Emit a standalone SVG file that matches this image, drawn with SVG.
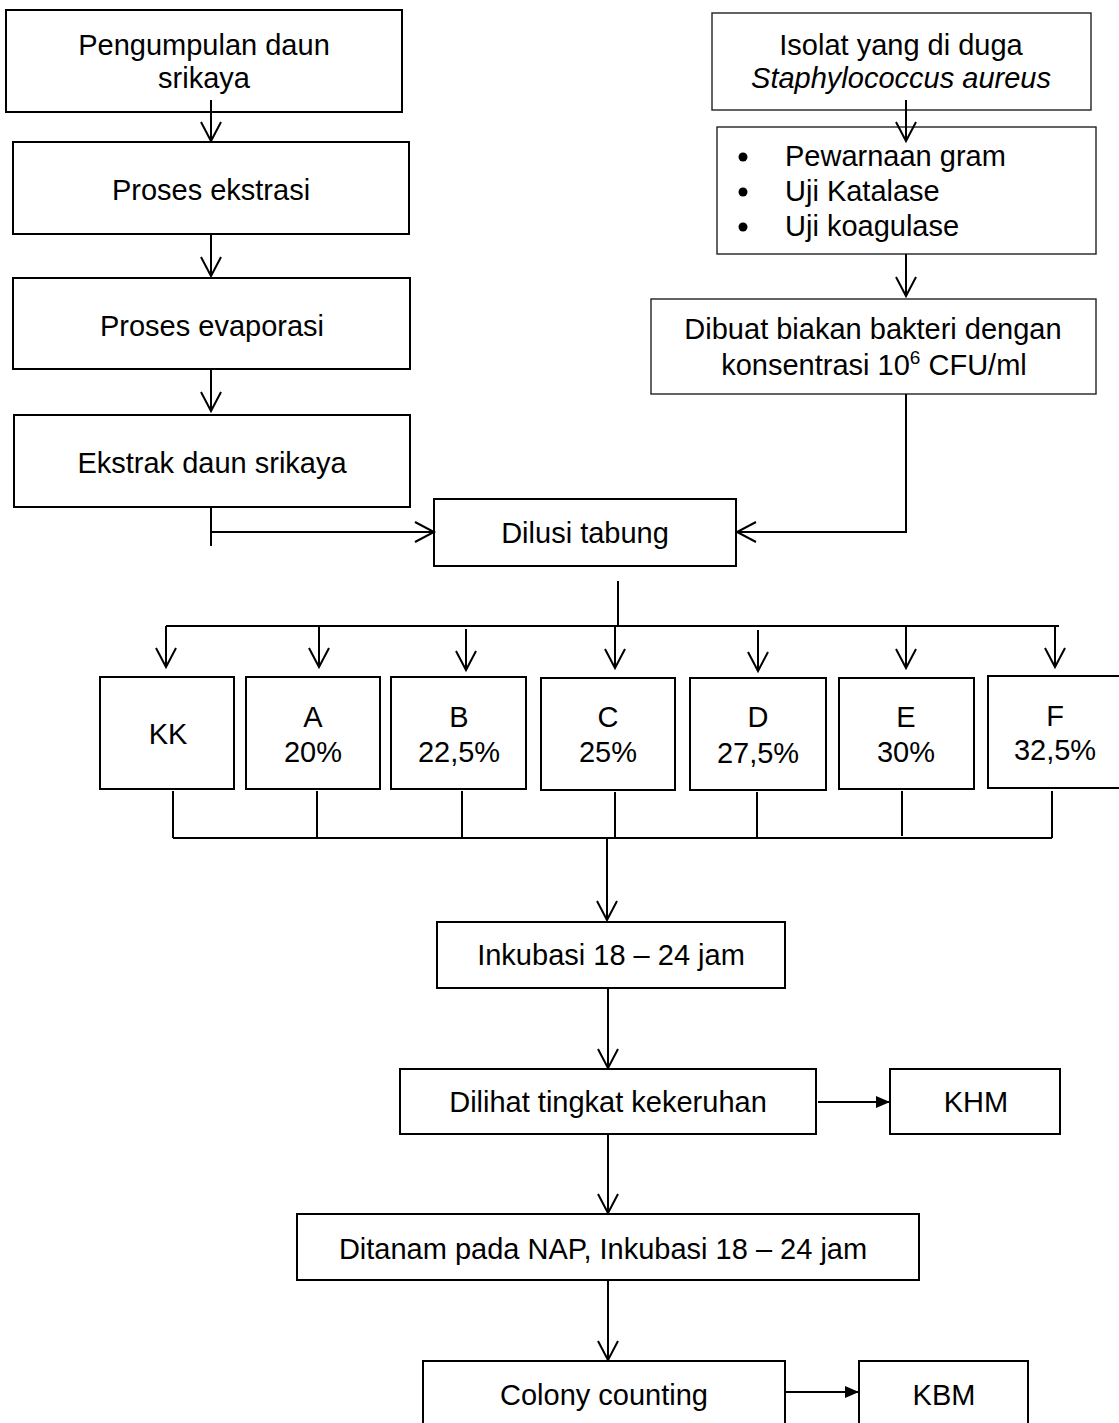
<svg xmlns="http://www.w3.org/2000/svg" width="1119" height="1423" viewBox="0 0 1119 1423">
<style>
  .box { fill: #ffffff; stroke: #000000; stroke-width: 2; }
  .thin { fill: #ffffff; stroke: #222222; stroke-width: 1.4; }
  .t { font-family: "Liberation Sans", Arial, sans-serif; font-size: 29px; fill: #000000; text-anchor: middle; }
  .tl { font-family: "Liberation Sans", Arial, sans-serif; font-size: 29px; fill: #000000; text-anchor: start; }
  .ln { fill: none; stroke: #000000; stroke-width: 2; }
  .a { marker-end: url(#open); }
  .f { marker-end: url(#filled); }
</style>
<defs>
  <marker id="open" markerUnits="userSpaceOnUse" viewBox="-2 -2 24 24" refX="19" refY="10" markerWidth="24" markerHeight="24" orient="auto" overflow="visible">
    <path d="M0,0 L19,10 L0,20" fill="none" stroke="#000" stroke-width="2"/>
  </marker>
  <marker id="filled" markerUnits="userSpaceOnUse" viewBox="0 0 14 12" refX="14" refY="6" markerWidth="14" markerHeight="12" orient="auto">
    <path d="M0,0 L14,6 L0,12 Z" fill="#000"/>
  </marker>
</defs>
<rect width="1119" height="1423" fill="#ffffff"/>

<g id="n-pengumpulan"><rect class="box" x="6" y="10" width="396" height="102"/>
  <text class="t" x="204" y="55">Pengumpulan daun</text><text class="t" x="204" y="88">srikaya</text></g>
<g id="n-ekstrasi"><rect class="box" x="13" y="142" width="396" height="92"/>
  <text class="t" x="211" y="200">Proses ekstrasi</text></g>
<g id="n-evaporasi"><rect class="box" x="13" y="278" width="397" height="91"/>
  <text class="t" x="212" y="336">Proses evaporasi</text></g>
<g id="n-ekstrak"><rect class="box" x="14" y="415" width="396" height="92"/>
  <text class="t" x="212" y="473">Ekstrak daun srikaya</text></g>

<g id="n-isolat"><rect class="thin" x="712" y="13" width="379" height="97"/>
  <text class="t" x="901" y="55">Isolat yang di duga</text>
  <text class="t" x="901" y="88" font-style="italic">Staphylococcus aureus</text></g>
<g id="n-uji"><rect class="thin" x="717" y="127" width="379" height="127"/>
  <circle cx="743" cy="157" r="4.5" fill="#000"/><circle cx="743" cy="192" r="4.5" fill="#000"/><circle cx="743" cy="227" r="4.5" fill="#000"/>
  <text class="tl" x="785" y="166">Pewarnaan gram</text>
  <text class="tl" x="785" y="201">Uji Katalase</text>
  <text class="tl" x="785" y="236">Uji koagulase</text></g>
<g id="n-biakan"><rect class="thin" x="651" y="299" width="445" height="95"/>
  <text class="t" x="873" y="339">Dibuat biakan bakteri dengan</text>
  <text class="t" x="874" y="375">konsentrasi 10<tspan font-size="19" dy="-11">6</tspan><tspan dy="11"> CFU/ml</tspan></text></g>

<g id="n-dilusi"><rect class="box" x="434" y="499" width="302" height="67"/>
  <text class="t" x="585" y="543">Dilusi tabung</text></g>

<g id="n-kk"><rect class="box" x="100" y="677" width="134" height="112"/><text class="t" x="168" y="744">KK</text></g>
<g id="n-a"><rect class="box" x="246" y="677" width="134" height="112"/><text class="t" x="313" y="727">A</text><text class="t" x="313" y="762">20%</text></g>
<g id="n-b"><rect class="box" x="391" y="677" width="135" height="112"/><text class="t" x="459" y="727">B</text><text class="t" x="459" y="762">22,5%</text></g>
<g id="n-c"><rect class="box" x="541" y="678" width="134" height="112"/><text class="t" x="608" y="727">C</text><text class="t" x="608" y="762">25%</text></g>
<g id="n-d"><rect class="box" x="690" y="678" width="136" height="112"/><text class="t" x="758" y="727">D</text><text class="t" x="758" y="763">27,5%</text></g>
<g id="n-e"><rect class="box" x="839" y="678" width="135" height="111"/><text class="t" x="906" y="727">E</text><text class="t" x="906" y="762">30%</text></g>
<g id="n-f"><rect class="box" x="988" y="676" width="134" height="112"/><text class="t" x="1055" y="726">F</text><text class="t" x="1055" y="760">32,5%</text></g>

<g id="n-inkubasi"><rect class="box" x="437" y="922" width="348" height="66"/>
  <text class="t" x="611" y="965">Inkubasi 18 – 24 jam</text></g>
<g id="n-dilihat"><rect class="box" x="400" y="1069" width="416" height="65"/>
  <text class="t" x="608" y="1112">Dilihat tingkat kekeruhan</text></g>
<g id="n-khm"><rect class="box" x="890" y="1069" width="170" height="65"/>
  <text class="t" x="976" y="1112">KHM</text></g>
<g id="n-ditanam"><rect class="box" x="297" y="1214" width="622" height="66"/>
  <text class="t" x="603" y="1259">Ditanam pada NAP, Inkubasi 18 – 24 jam</text></g>
<g id="n-colony"><rect class="box" x="423" y="1361" width="362" height="80"/>
  <text class="t" x="604" y="1405">Colony counting</text></g>
<g id="n-kbm"><rect class="box" x="859" y="1361" width="169" height="80"/>
  <text class="t" x="944" y="1405">KBM</text></g>

<g id="connectors">
  <line class="ln a" x1="211" y1="100" x2="211" y2="141"/>
  <line class="ln a" x1="211" y1="234" x2="211" y2="276"/>
  <line class="ln a" x1="211" y1="369" x2="211" y2="411"/>
  <line class="ln" x1="211" y1="507" x2="211" y2="546"/>
  <line class="ln a" x1="211" y1="532" x2="434" y2="532"/>
  <line class="ln a" x1="906" y1="100" x2="906" y2="141"/>
  <line class="ln a" x1="906" y1="254" x2="906" y2="296"/>
  <polyline class="ln a" points="906,394 906,532 737,532"/>
  <line class="ln" x1="618" y1="581" x2="618" y2="626"/>
  <line class="ln" x1="166" y1="626" x2="1059" y2="626"/>
  <line class="ln a" x1="166" y1="626" x2="166" y2="667"/>
  <line class="ln a" x1="319" y1="626" x2="319" y2="667"/>
  <line class="ln a" x1="466" y1="629" x2="466" y2="670"/>
  <line class="ln a" x1="615" y1="626" x2="615" y2="668"/>
  <line class="ln a" x1="758" y1="630" x2="758" y2="671"/>
  <line class="ln a" x1="906" y1="626" x2="906" y2="668"/>
  <line class="ln a" x1="1055" y1="626" x2="1055" y2="667"/>
  <line class="ln" x1="173" y1="791" x2="173" y2="838"/>
  <line class="ln" x1="317" y1="791" x2="317" y2="838"/>
  <line class="ln" x1="462" y1="791" x2="462" y2="838"/>
  <line class="ln" x1="615" y1="792" x2="615" y2="838"/>
  <line class="ln" x1="757" y1="792" x2="757" y2="838"/>
  <line class="ln" x1="902" y1="791" x2="902" y2="836"/>
  <line class="ln" x1="1052" y1="791" x2="1052" y2="838"/>
  <line class="ln" x1="173" y1="838" x2="1052" y2="838"/>
  <line class="ln a" x1="607" y1="838" x2="607" y2="920"/>
  <line class="ln a" x1="608" y1="988" x2="608" y2="1068"/>
  <line class="ln f" x1="818" y1="1102" x2="890" y2="1102"/>
  <line class="ln a" x1="608" y1="1134" x2="608" y2="1213"/>
  <line class="ln a" x1="608" y1="1280" x2="608" y2="1360"/>
  <line class="ln f" x1="785" y1="1392" x2="859" y2="1392"/>
</g>
</svg>
